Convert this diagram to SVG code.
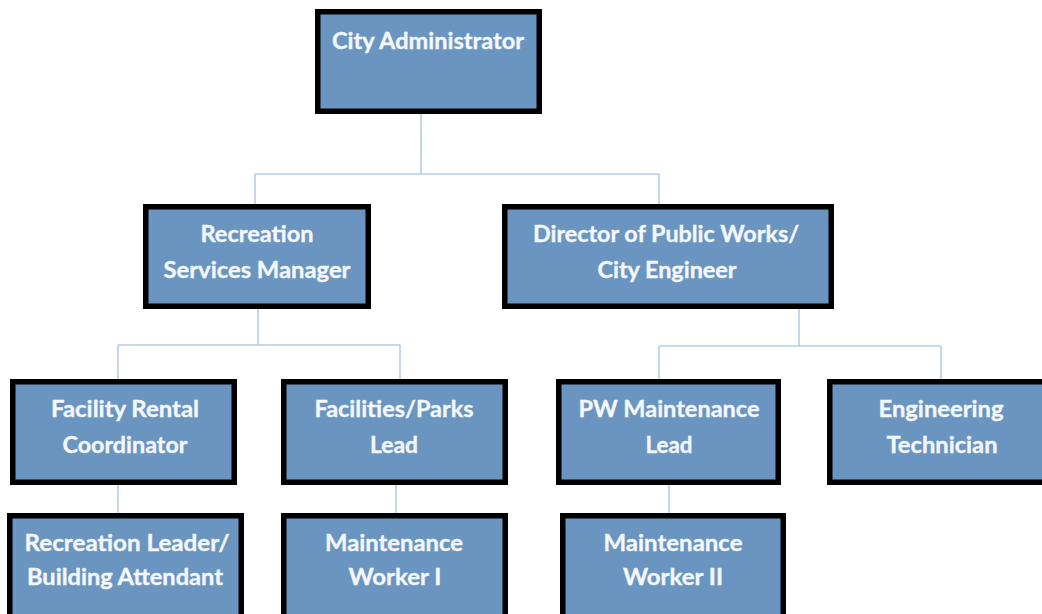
<svg xmlns="http://www.w3.org/2000/svg" width="1042" height="614" viewBox="0 0 1042 614">
  <style>
    .box { fill: #6A95C1; stroke: #000; stroke-width: 5.5; }
    .lbl { font-family: Lato, "Open Sans", "Liberation Sans", sans-serif; font-weight: bold; font-size: 22px; fill: #F4F7FB; stroke: #F4F7FB; stroke-width: 0.35; text-anchor: middle; }
    .wire { fill: none; stroke: #B3CDE8; stroke-width: 1.6; }
  </style>
  <rect width="1042" height="614" fill="#FFFFFF"/>

  <!-- reporting lines -->
  <g id="connectors">
    <path class="wire" d="M421 114 V174 M255 174 H659 M255 174 V204 M659 174 V204"/>
    <path class="wire" d="M258 309 V345 M118 345 H400 M118 345 V379 M400 345 V379"/>
    <path class="wire" d="M799 309 V346 M659 346 H941 M659 346 V379 M941 346 V379"/>
    <path class="wire" d="M118 485 V513 M396 485 V513 M669 485 V513"/>
  </g>

  <g id="city-administrator">
    <rect class="box" x="317.75" y="11.75" width="221.5" height="99.5"/>
    <text class="lbl" x="428" y="49" textLength="192" lengthAdjust="spacingAndGlyphs">City Administrator</text>
  </g>

  <g id="recreation-services-manager">
    <rect class="box" x="145.75" y="206.75" width="222.5" height="99.5"/>
    <text class="lbl" x="257" y="242" textLength="113" lengthAdjust="spacingAndGlyphs">Recreation</text>
    <text class="lbl" x="257" y="278" textLength="187" lengthAdjust="spacingAndGlyphs">Services Manager</text>
  </g>

  <g id="director-public-works">
    <rect class="box" x="504.75" y="206.75" width="326.5" height="99.5"/>
    <text class="lbl" x="666" y="242" textLength="266" lengthAdjust="spacingAndGlyphs">Director of Public Works/</text>
    <text class="lbl" x="667" y="278" textLength="139" lengthAdjust="spacingAndGlyphs">City Engineer</text>
  </g>

  <g id="facility-rental-coordinator">
    <rect class="box" x="12.75" y="381.75" width="221.5" height="100.5"/>
    <text class="lbl" x="125" y="417" textLength="148" lengthAdjust="spacingAndGlyphs">Facility Rental</text>
    <text class="lbl" x="125" y="453" textLength="125" lengthAdjust="spacingAndGlyphs">Coordinator</text>
  </g>

  <g id="facilities-parks-lead">
    <rect class="box" x="283.75" y="381.75" width="221.5" height="100.5"/>
    <text class="lbl" x="394" y="417" textLength="159" lengthAdjust="spacingAndGlyphs">Facilities/Parks</text>
    <text class="lbl" x="394" y="453" textLength="48" lengthAdjust="spacingAndGlyphs">Lead</text>
  </g>

  <g id="pw-maintenance-lead">
    <rect class="box" x="558.75" y="381.75" width="219.5" height="100.5"/>
    <text class="lbl" x="669" y="417" textLength="181" lengthAdjust="spacingAndGlyphs">PW Maintenance</text>
    <text class="lbl" x="669" y="453" textLength="47" lengthAdjust="spacingAndGlyphs">Lead</text>
  </g>

  <g id="engineering-technician">
    <rect class="box" x="829.75" y="381.75" width="230" height="100.5"/>
    <text class="lbl" x="941" y="417" textLength="125" lengthAdjust="spacingAndGlyphs">Engineering</text>
    <text class="lbl" x="942" y="453" textLength="111" lengthAdjust="spacingAndGlyphs">Technician</text>
  </g>

  <g id="recreation-leader">
    <rect class="box" x="9.75" y="515.75" width="231.5" height="120"/>
    <text class="lbl" x="127" y="551" textLength="205" lengthAdjust="spacingAndGlyphs">Recreation Leader/</text>
    <text class="lbl" x="125" y="585" textLength="196" lengthAdjust="spacingAndGlyphs">Building Attendant</text>
  </g>

  <g id="maintenance-worker-1">
    <rect class="box" x="283.75" y="515.75" width="221.5" height="120"/>
    <text class="lbl" x="394" y="551" textLength="138" lengthAdjust="spacingAndGlyphs">Maintenance</text>
    <text class="lbl" x="395" y="585" textLength="93" lengthAdjust="spacingAndGlyphs">Worker I</text>
  </g>

  <g id="maintenance-worker-2">
    <rect class="box" x="562.75" y="515.75" width="220.5" height="120"/>
    <text class="lbl" x="673" y="551" textLength="139" lengthAdjust="spacingAndGlyphs">Maintenance</text>
    <text class="lbl" x="673" y="585" textLength="100" lengthAdjust="spacingAndGlyphs">Worker II</text>
  </g>
</svg>
